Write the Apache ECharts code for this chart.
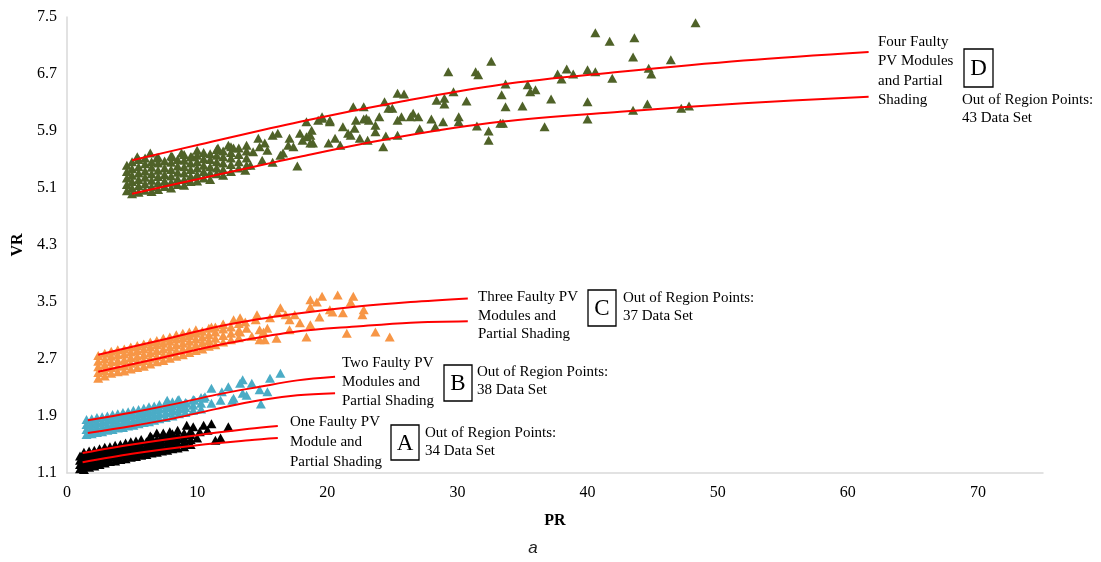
<!DOCTYPE html>
<html>
<head>
<meta charset="utf-8">
<script src="https://cdn.jsdelivr.net/npm/echarts@6/dist/echarts.min.js"></script>
<style>html,body{margin:0;padding:0;background:#fff}#c{width:1101px;height:562px}</style>
</head>
<body>
<div id="c"></div>
<script>
// ---- tick labels ----
const xTicks = [0, 10, 20, 30, 40, 50, 60, 70];
const yTicks = [1.1, 1.9, 2.7, 3.5, 4.3, 5.1, 5.9, 6.7, 7.5];

// ---- scatter data [PR, VR] ----
const pointsA = [
  [1.0,1.16],[1.0,1.22],[1.0,1.28],[1.0,1.34],
  [1.3,1.15],[1.3,1.21],[1.3,1.27],[1.3,1.33],[1.3,1.39],
  [1.7,1.18],[1.7,1.24],[1.7,1.30],[1.7,1.36],[1.7,1.41],
  [2.1,1.20],[2.1,1.26],[2.1,1.32],[2.1,1.38],[2.1,1.42],
  [2.5,1.22],[2.5,1.28],[2.5,1.34],[2.5,1.40],[2.5,1.44],
  [2.9,1.24],[2.9,1.30],[2.9,1.36],[2.9,1.42],[2.9,1.46],
  [3.3,1.26],[3.3,1.32],[3.3,1.38],[3.3,1.44],[3.3,1.47],
  [3.7,1.27],[3.7,1.33],[3.7,1.39],[3.7,1.45],[3.7,1.49],
  [4.1,1.29],[4.1,1.35],[4.1,1.41],[4.1,1.47],[4.1,1.50],
  [4.5,1.30],[4.5,1.36],[4.5,1.42],[4.5,1.48],[4.5,1.52],
  [4.9,1.32],[4.9,1.38],[4.9,1.44],[4.9,1.50],[4.9,1.54],
  [5.3,1.33],[5.3,1.39],[5.3,1.45],[5.3,1.51],[5.3,1.55],
  [5.7,1.35],[5.7,1.41],[5.7,1.47],[5.7,1.53],[5.7,1.57],
  [6.1,1.36],[6.1,1.42],[6.1,1.48],[6.1,1.54],
  [6.5,1.38],[6.5,1.44],[6.5,1.50],[6.5,1.56],[6.5,1.60],
  [6.9,1.39],[6.9,1.45],[6.9,1.51],[6.9,1.57],
  [7.3,1.41],[7.3,1.47],[7.3,1.53],[7.3,1.59],[7.3,1.62],
  [7.7,1.42],[7.7,1.48],[7.7,1.54],[7.7,1.60],
  [8.1,1.44],[8.1,1.50],[8.1,1.56],[8.1,1.62],[8.1,1.65],
  [8.5,1.45],[8.5,1.52],[8.5,1.58],[8.5,1.63],
  [9.0,1.47],[9.0,1.54],[9.0,1.60],[9.0,1.66],
  [9.5,1.50],[9.5,1.57],[9.5,1.64],[9.5,1.69],
  [10.5,1.77],[11.1,1.79],[12.4,1.75],[11.8,1.59],[11.4,1.56],[10.0,1.59],
  [8.5,1.70],[7.9,1.68],[7.4,1.66],[6.9,1.66],[9.2,1.77],[9.7,1.75],
  [10.2,1.68],[10.8,1.70],[6.4,1.62]
];
const pointsB = [
  [1.5,1.64],[1.5,1.71],[1.5,1.78],[1.5,1.85],
  [1.9,1.65],[1.9,1.72],[1.9,1.79],[1.9,1.86],
  [2.3,1.67],[2.3,1.74],[2.3,1.81],[2.3,1.88],
  [2.7,1.68],[2.7,1.75],[2.7,1.82],[2.7,1.89],
  [3.1,1.70],[3.1,1.77],[3.1,1.84],[3.1,1.90],
  [3.5,1.71],[3.5,1.78],[3.5,1.85],[3.5,1.92],
  [3.9,1.73],[3.9,1.80],[3.9,1.87],[3.9,1.93],
  [4.3,1.74],[4.3,1.81],[4.3,1.88],[4.3,1.95],
  [4.7,1.76],[4.7,1.83],[4.7,1.90],[4.7,1.96],
  [5.1,1.77],[5.1,1.84],[5.1,1.91],[5.1,1.98],
  [5.5,1.79],[5.5,1.86],[5.5,1.93],[5.5,1.99],
  [5.9,1.81],[5.9,1.88],[5.9,1.95],[5.9,2.01],
  [6.3,1.82],[6.3,1.89],[6.3,1.96],[6.3,2.03],
  [6.7,1.84],[6.7,1.91],[6.7,1.98],[6.7,2.04],
  [7.1,1.86],[7.1,1.93],[7.1,2.00],[7.1,2.06],
  [7.6,1.88],[7.6,1.95],[7.6,2.02],[7.6,2.08],
  [8.1,1.90],[8.1,1.97],[8.1,2.04],[8.1,2.10],
  [8.6,1.93],[8.6,2.00],[8.6,2.07],[8.6,2.13],
  [9.1,1.95],[9.1,2.02],[9.1,2.09],
  [9.7,1.98],[9.7,2.05],[9.7,2.13],
  [10.3,2.00],[10.3,2.08],[10.3,2.16],
  [11.1,2.29],[11.9,2.24],[12.4,2.31],[13.5,2.41],[14.2,2.36],[15.6,2.43],
  [16.4,2.50],[14.8,2.27],[13.5,2.22],[12.8,2.15],[11.8,2.12],[10.6,2.17],
  [9.8,2.12],[9.2,2.08],[8.5,2.12],[7.7,2.12],[7.9,2.03],[13.3,2.36],
  [13.8,2.19],[12.7,2.12],[10.5,2.15],[11.1,2.08],[8.1,1.98],[8.9,2.05],
  [15.4,2.24],[14.9,2.07]
];
const pointsC = [
  [2.4,2.43],[2.4,2.51],[2.4,2.59],[2.4,2.67],[2.4,2.75],
  [2.9,2.46],[2.9,2.54],[2.9,2.62],[2.9,2.70],[2.9,2.78],
  [3.4,2.50],[3.4,2.58],[3.4,2.66],[3.4,2.74],[3.4,2.81],
  [3.9,2.52],[3.9,2.60],[3.9,2.68],[3.9,2.76],[3.9,2.83],
  [4.4,2.53],[4.4,2.61],[4.4,2.69],[4.4,2.77],[4.4,2.84],
  [4.9,2.56],[4.9,2.64],[4.9,2.72],[4.9,2.80],[4.9,2.87],
  [5.4,2.58],[5.4,2.66],[5.4,2.74],[5.4,2.82],[5.4,2.89],
  [5.9,2.60],[5.9,2.68],[5.9,2.76],[5.9,2.84],[5.9,2.91],
  [6.4,2.63],[6.4,2.71],[6.4,2.79],[6.4,2.87],[6.4,2.94],
  [6.9,2.66],[6.9,2.74],[6.9,2.82],[6.9,2.90],[6.9,2.96],
  [7.4,2.68],[7.4,2.76],[7.4,2.84],[7.4,2.92],[7.4,2.99],
  [7.9,2.71],[7.9,2.79],[7.9,2.87],[7.9,2.95],[7.9,3.01],
  [8.4,2.74],[8.4,2.82],[8.4,2.90],[8.4,2.98],[8.4,3.04],
  [8.9,2.76],[8.9,2.84],[8.9,2.92],[8.9,3.00],[8.9,3.06],
  [9.4,2.79],[9.4,2.87],[9.4,2.95],[9.4,3.03],[9.4,3.08],
  [9.9,2.82],[9.9,2.90],[9.9,2.98],[9.9,3.06],[9.9,3.11],
  [10.4,2.84],[10.4,2.93],[10.4,3.01],[10.4,3.09],
  [10.9,2.88],[10.9,2.96],[10.9,3.04],[10.9,3.13],
  [11.4,2.90],[11.4,2.99],[11.4,3.08],[11.4,3.15],
  [12.0,2.94],[12.0,3.03],[12.0,3.12],[12.0,3.19],
  [12.6,2.97],[12.6,3.06],[12.6,3.15],
  [13.2,3.00],[13.2,3.10],[13.2,3.20],
  [11.1,3.15],[12.0,3.18],[12.8,3.25],[13.8,3.13],[14.6,3.32],[14.8,3.11],
  [15.1,3.08],[15.4,3.13],[16.1,2.99],[16.2,3.35],[16.4,3.42],[17.1,3.25],
  [17.9,3.21],[18.4,3.01],[18.7,3.43],[18.7,3.18],[19.2,3.50],[19.4,3.29],
  [20.2,3.39],[20.4,3.36],[21.2,3.35],[21.5,3.06],[21.8,3.50],[22.7,3.32],
  [22.8,3.39],[23.7,3.08],[24.8,3.01],[14.8,2.97],[14.2,3.02],[13.3,3.08],
  [19.6,3.58],[20.8,3.60],[22.0,3.58],[18.7,3.53],
  [13.7,3.22],[14.5,3.25],[15.6,3.28],[16.8,3.32],[15.2,2.97],[17.1,3.11],
  [17.5,3.32],[13.3,3.28]
];
const pointsD = [
  [4.6,5.06],[4.6,5.15],[4.6,5.24],[4.6,5.33],[4.6,5.42],
  [5.0,5.02],[5.0,5.10],[5.0,5.19],[5.0,5.28],[5.0,5.37],[5.0,5.47],
  [5.5,5.04],[5.5,5.13],[5.5,5.22],[5.5,5.31],[5.5,5.40],[5.5,5.50],
  [6.0,5.07],[6.0,5.16],[6.0,5.25],[6.0,5.34],[6.0,5.44],[6.0,5.52],
  [6.5,5.05],[6.5,5.12],[6.5,5.21],[6.5,5.30],[6.5,5.39],[6.5,5.47],
  [7.0,5.08],[7.0,5.17],[7.0,5.26],[7.0,5.35],[7.0,5.45],[7.0,5.53],
  [7.5,5.12],[7.5,5.20],[7.5,5.29],[7.5,5.38],[7.5,5.48],
  [8.0,5.10],[8.0,5.18],[8.0,5.27],[8.0,5.36],[8.0,5.46],[8.0,5.55],
  [8.5,5.15],[8.5,5.23],[8.5,5.32],[8.5,5.41],[8.5,5.50],
  [9.0,5.14],[9.0,5.22],[9.0,5.31],[9.0,5.40],[9.0,5.49],[9.0,5.57],
  [9.5,5.19],[9.5,5.27],[9.5,5.36],[9.5,5.45],[9.5,5.54],
  [10.0,5.20],[10.0,5.29],[10.0,5.38],[10.0,5.47],[10.0,5.56],[10.0,5.63],
  [10.5,5.24],[10.5,5.33],[10.5,5.42],[10.5,5.51],[10.5,5.60],
  [11.0,5.22],[11.0,5.31],[11.0,5.40],[11.0,5.50],[11.0,5.58],
  [11.5,5.30],[11.5,5.38],[11.5,5.47],[11.5,5.56],[11.5,5.64],
  [12.0,5.28],[12.0,5.36],[12.0,5.45],[12.0,5.54],[12.0,5.62],
  [12.6,5.33],[12.6,5.43],[12.6,5.52],[12.6,5.60],[12.6,5.68],
  [13.2,5.38],[13.2,5.47],[13.2,5.57],[13.2,5.66],
  [13.8,5.42],[13.8,5.52],[13.8,5.62],[13.8,5.70],
  [14.7,5.80],[14.8,5.68],[15.2,5.73],[15.4,5.63],[14.3,5.61],[12.8,5.66],
  [12.4,5.70],[11.6,5.66],[9.6,5.54],[8.8,5.59],[8.1,5.54],[6.9,5.52],
  [6.4,5.59],[5.4,5.54],
  [15.8,5.84],[16.2,5.87],[17.1,5.80],[17.9,5.87],[18.4,6.03],[19.3,6.05],
  [19.6,6.10],[20.2,6.03],[17.7,5.41],[15.8,5.46],[16.6,5.59],[17.0,5.70],
  [18.9,5.73],[18.7,5.84],[18.1,5.77],[17.4,5.68],[14.1,5.42],[15.0,5.49],
  [13.7,5.35],[16.4,5.56],
  [29.3,6.73],[31.4,6.73],[31.6,6.69],[32.6,6.88],[40.6,7.28],[25.4,6.43],
  [25.9,6.42],[29.7,6.45],[30.7,6.32],[33.4,6.41],[33.7,6.56],[35.4,6.55],
  [35.6,6.45],[36.0,6.48],[37.7,6.70],[38.4,6.77],[38.9,6.70],[40.0,6.76],
  [40.6,6.73],[40.0,6.31],[40.0,6.07],[37.2,6.35],[35.0,6.25],[33.7,6.24],
  [36.7,5.96],[33.3,6.01],[33.5,6.01],[32.4,5.90],[32.4,5.77],[31.5,5.97],
  [30.1,6.10],[30.1,6.03],[29.0,6.36],[29.0,6.28],[28.4,6.33],[28.0,6.07],
  [28.9,6.03],[28.3,5.96],[27.1,5.93],[27.0,6.10],[26.6,6.15],[26.4,6.10],
  [25.7,6.10],[25.4,6.05],[25.4,5.84],[24.4,6.31],[24.7,6.22],[25.0,6.22],
  [24.0,6.10],[23.7,5.98],[24.5,5.83],[22.8,6.24],[22.0,6.24],[23.0,6.08],
  [22.8,6.07],[22.2,6.05],[23.2,6.05],[22.1,5.94],[21.2,5.96],[21.6,5.87],
  [20.2,6.05],[19.6,6.08],[20.6,5.80],[21.8,5.84],[22.5,5.80],[23.1,5.77],
  [23.7,5.89],[21.0,5.70],[18.8,5.91],[18.4,5.82],[18.7,5.73],[20.1,5.73],
  [24.3,5.68],[38.0,6.63],
  [41.7,7.16],[43.6,7.21],[48.3,7.42],[43.5,6.94],[46.4,6.90],[41.9,6.64],
  [44.7,6.78],[44.9,6.70],[43.5,6.19],[44.6,6.28],[47.2,6.22],[47.8,6.25]
];

// ---- boundary curves [PR, VR] ----
const upperA = [[1.2,1.38],[5,1.50],[10,1.63],[14,1.72],[16.2,1.76]];
const lowerA = [[1.2,1.25],[5,1.37],[10,1.49],[14,1.56],[16.2,1.59]];
const upperB = [[1.6,1.84],[5,1.95],[8.3,2.07],[11.5,2.20],[14.8,2.31],[17.7,2.40],[20.6,2.45]];
const lowerB = [[1.6,1.66],[5,1.76],[8.3,1.87],[11.5,2.00],[14.8,2.12],[17.7,2.19],[20.6,2.22]];
const upperC = [[2.4,2.76],[7.1,2.96],[12.3,3.18],[17.4,3.33],[22.5,3.44],[26.4,3.50],[30.8,3.55]];
const lowerC = [[2.4,2.52],[7.1,2.71],[12.3,2.92],[17.4,3.08],[22.5,3.16],[26.4,3.21],[30.8,3.23]];
const upperD = [[5.0,5.49],[10.2,5.71],[17.9,6.03],[25.6,6.31],[33.3,6.55],[42.5,6.73],[52,6.89],[61.6,7.01]];
const lowerD = [[5.0,5.02],[10.2,5.23],[17.9,5.54],[25.6,5.82],[33.3,6.03],[42.5,6.17],[52,6.29],[61.6,6.38]];

// ---- annotation texts ----
const labelA = ['One Faulty PV', 'Module and', 'Partial Shading'];
const labelB = ['Two Faulty PV', 'Modules and', 'Partial Shading'];
const labelC = ['Three Faulty PV', 'Modules and', 'Partial Shading'];
const labelD = ['Four Faulty', 'PV Modules', 'and Partial', 'Shading'];
const outA = ['Out of Region Points:', '34 Data Set'];
const outB = ['Out of Region Points:', '38 Data Set'];
const outC = ['Out of Region Points:', '37 Data Set'];
const outD = ['Out of Region Points:', '43 Data Set'];

const SERIF = '"Liberation Serif", "Times New Roman", serif';
const chart = echarts.init(document.getElementById('c'), null, { renderer: 'canvas' });

function scatter(name, data, color) {
  return { name, type: 'scatter', data, symbol: 'triangle', symbolSize: [10, 9],
    itemStyle: { color, opacity: 1 }, z: 2, silent: true };
}
function curve(data) {
  return { type: 'line', data, smooth: 0.35, showSymbol: false, symbol: 'none',
    lineStyle: { color: '#FF0000', width: 2 }, z: 5, silent: true };
}
function txt(x, y, lines, lh, size) {
  return { type: 'text', left: x, top: y, silent: true,
    style: { text: lines.join('\n'), font: (size || 15) + 'px ' + SERIF, fill: '#000', lineHeight: lh } };
}
function box(x, y, w, h, letter) {
  return [
    { type: 'rect', shape: { x, y, width: w, height: h }, silent: true,
      style: { fill: '#fff', stroke: '#000', lineWidth: 1.3 } },
    { type: 'text', x: x + w / 2, y: y + h / 2 + 1, silent: true,
      style: { text: letter, font: '23px ' + SERIF, fill: '#000', align: 'center', verticalAlign: 'middle' } }
  ];
}

chart.setOption({
  animation: false,
  backgroundColor: '#fff',
  grid: { left: 67, right: 58, top: 17, bottom: 89, containLabel: false },
  xAxis: {
    type: 'value', min: 0, max: 75,
    name: 'PR', nameLocation: 'middle', nameGap: 40,
    nameTextStyle: { fontFamily: SERIF, fontSize: 16, fontWeight: 'bold', color: '#000' },
    axisLine: { show: true, lineStyle: { color: '#d9d9d9', width: 1.5 } },
    axisTick: { show: false },
    splitLine: { show: false },
    axisLabel: { customValues: xTicks, margin: 12, fontFamily: SERIF, fontSize: 16, color: '#000' }
  },
  yAxis: {
    type: 'value', min: 1.1, max: 7.5,
    name: 'VR', nameLocation: 'middle', nameGap: 40, nameRotate: 90,
    nameTextStyle: { fontFamily: SERIF, fontSize: 16, fontWeight: 'bold', color: '#000' },
    axisLine: { show: true, lineStyle: { color: '#d9d9d9', width: 1.5 } },
    axisTick: { show: false },
    splitLine: { show: false },
    axisLabel: { customValues: yTicks, margin: 10, fontFamily: SERIF, fontSize: 16, color: '#000',
      formatter: v => v.toFixed(1) }
  },
  series: [
    scatter('A', pointsA, '#000000'),
    scatter('B', pointsB, '#4BACC6'),
    scatter('C', pointsC, '#F79646'),
    scatter('D', pointsD, '#4F6228'),
    curve(upperA), curve(lowerA), curve(upperB), curve(lowerB),
    curve(upperC), curve(lowerC), curve(upperD), curve(lowerD)
  ],
  graphic: [
    txt(878, 32, labelD, 19.5),
    ...box(964, 49, 29, 38, 'D'),
    txt(962, 91, outD, 18),
    txt(478, 288, labelC, 18.5),
    ...box(588, 290, 28, 36, 'C'),
    txt(623, 289, outC, 18),
    txt(342, 354, labelB, 19),
    ...box(444, 365, 28, 36, 'B'),
    txt(477, 363, outB, 18),
    txt(290, 412, labelA, 20),
    ...box(391, 425, 28, 35, 'A'),
    txt(425, 424, outA, 18),
    { type: 'text', x: 533, y: 548, silent: true,
      style: { text: 'a', font: 'italic 17px "Liberation Sans", Arial, sans-serif', fill: '#222',
        align: 'center', verticalAlign: 'middle' } }
  ]
});
</script>
</body>
</html>
